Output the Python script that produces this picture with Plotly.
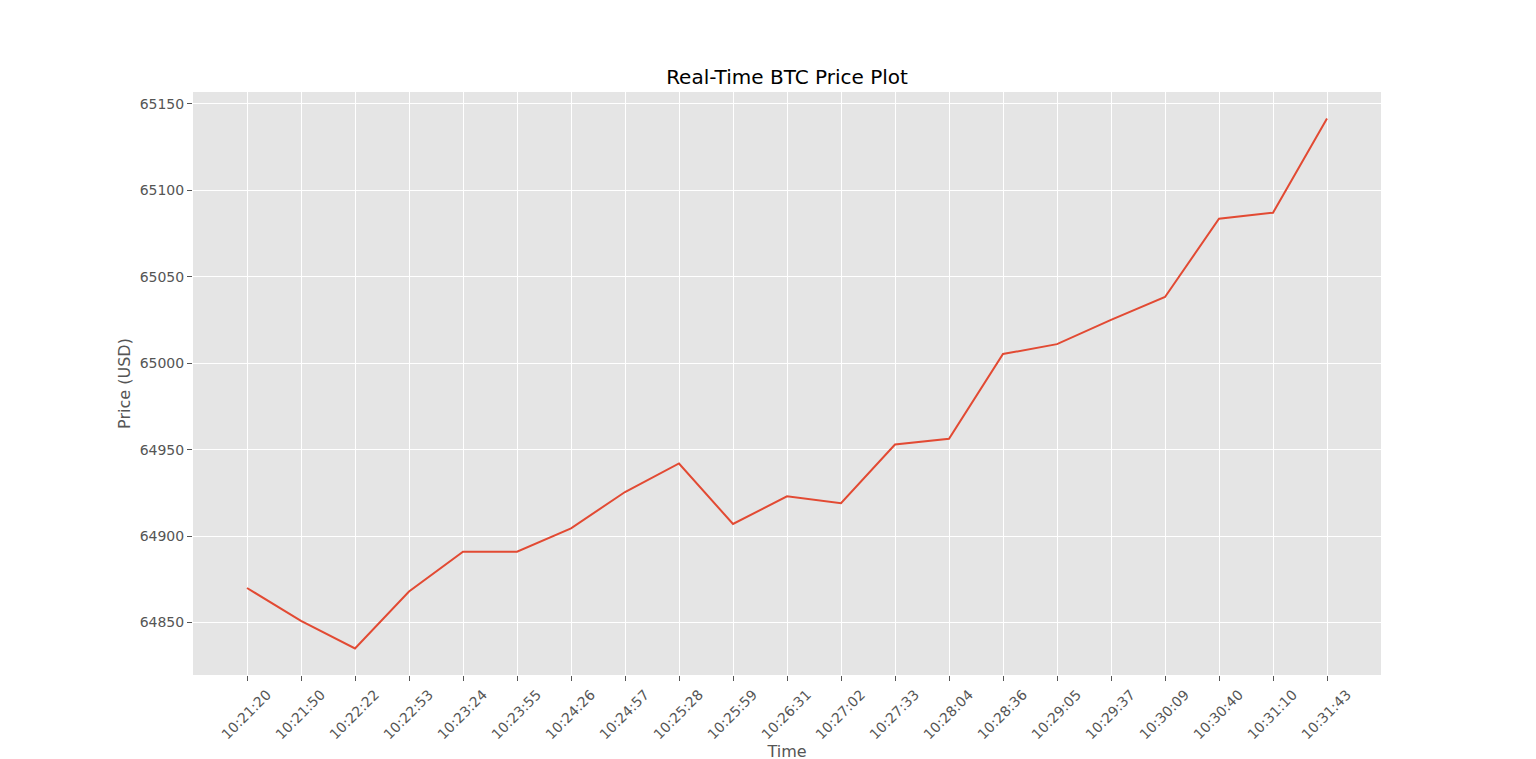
import plotly.graph_objects as go

times = ["10:21:20", "10:21:50", "10:22:22", "10:22:53", "10:23:24", "10:23:55",
         "10:24:26", "10:24:57", "10:25:28", "10:25:59", "10:26:31", "10:27:02",
         "10:27:33", "10:28:04", "10:28:36", "10:29:05", "10:29:37", "10:30:09",
         "10:30:40", "10:31:10", "10:31:43"]
prices = [64870, 64851, 64835, 64868, 64891, 64891,
          64904.5, 64925.5, 64942, 64907, 64923, 64919,
          64953, 64956.3, 65005.3, 65011, 65025, 65038.3,
          65083.5, 65087, 65141.5]
ytick_vals = [64850, 64900, 64950, 65000, 65050, 65100, 65150]

FONT = "DejaVu Sans"
GREY = "#555555"

pad = 0.05 * (max(prices) - min(prices))

fig = go.Figure()
fig.add_trace(go.Scatter(x=times, y=prices, mode="lines",
                         line=dict(color="#E24A33", width=2), showlegend=False))

fig.update_layout(
    width=1536, height=759,
    margin=dict(l=185, r=163, t=84, b=92),
    paper_bgcolor="white", plot_bgcolor="#E5E5E5",
    title=dict(text="Real-Time BTC Price Plot", x=779 / 1536, xanchor="center",
               y=1 - 69 / 759, yanchor="middle",
               font=dict(family=FONT, size=20, color="black")),
    font=dict(family=FONT, color=GREY),
)
fig.update_xaxes(
    type="category", range=[-1, len(times)],
    tickmode="array", tickvals=times, ticktext=times,
    tickangle=-45, ticklabelshift=20,
    ticks="outside", ticklen=5, tickwidth=1, tickcolor=GREY,
    tickfont=dict(family=FONT, size=14, color=GREY),
    showgrid=True, gridcolor="white", gridwidth=1.1,
    showline=False, zeroline=False,
    title=dict(text="Time", font=dict(family=FONT, size=16, color=GREY), standoff=3),
    automargin=False,
)
fig.update_yaxes(
    range=[min(prices) - pad, max(prices) + pad],
    tickmode="array", tickvals=ytick_vals, ticktext=[str(v) for v in ytick_vals],
    ticks="outside", ticklen=5, tickwidth=1, tickcolor=GREY,
    tickfont=dict(family=FONT, size=14, color=GREY),
    showgrid=True, gridcolor="white", gridwidth=1.1,
    showline=False, zeroline=False,
    title=dict(text="Price (USD)", font=dict(family=FONT, size=16, color=GREY), standoff=5),
    automargin=False,
)

fig.write_html("out.html")
